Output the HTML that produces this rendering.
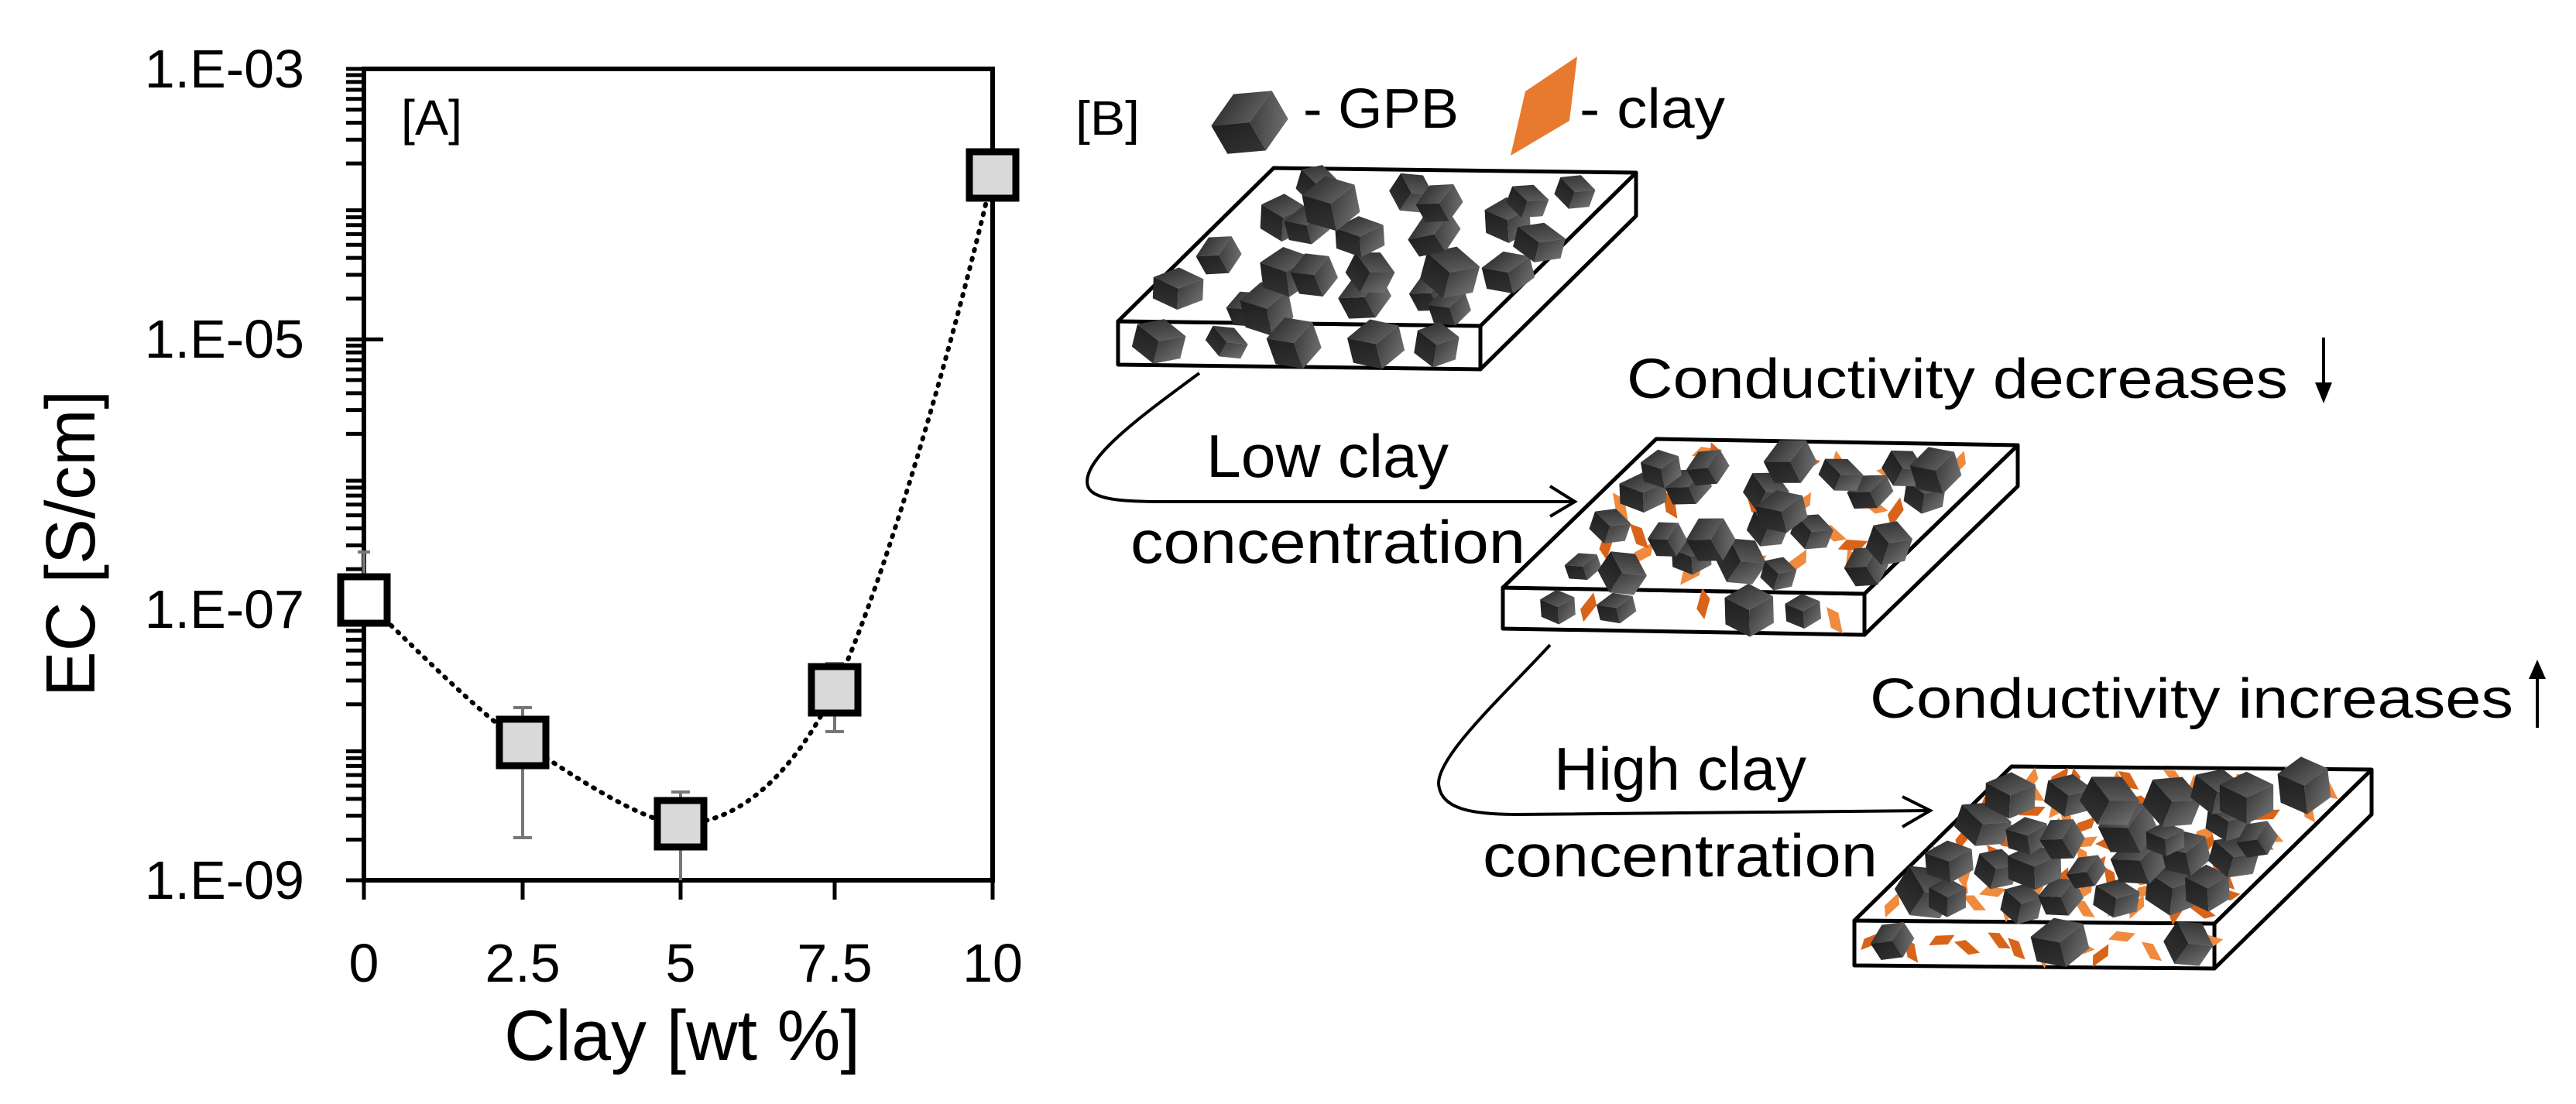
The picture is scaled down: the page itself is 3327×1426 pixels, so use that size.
<!DOCTYPE html>
<html><head><meta charset="utf-8">
<style>html,body{margin:0;padding:0;background:#fff;}svg{display:block;}text{font-family:"Liberation Sans",sans-serif;fill:#000;}</style>
</head><body>
<svg id="s" xmlns="http://www.w3.org/2000/svg" width="3327" height="1426" viewBox="0 0 3327 1426">
<defs>
<linearGradient id="gt" x1="0" y1="0" x2="1" y2="1"><stop offset="0" stop-color="#262626"/><stop offset="1" stop-color="#6a6a6a"/></linearGradient>
<linearGradient id="gl" x1="0" y1="0" x2="0" y2="1"><stop offset="0" stop-color="#1f1f1f"/><stop offset="1" stop-color="#333"/></linearGradient>
<linearGradient id="gr" x1="0" y1="0" x2="1" y2="1"><stop offset="0" stop-color="#333"/><stop offset="1" stop-color="#7a7a7a"/></linearGradient>
<g id="cube">
<polygon points="0,-1 0.87,-0.5 0,0 -0.87,-0.5" fill="url(#gt)"/>
<polygon points="-0.87,-0.5 0,0 0,1 -0.87,0.5" fill="url(#gl)"/>
<polygon points="0,0 0.87,-0.5 0.87,0.5 0,1" fill="url(#gr)"/>
</g>
</defs>
<rect width="3327" height="1426" fill="#fff"/>

<g stroke="#000" stroke-width="6" fill="none">
<rect x="470" y="89" width="812" height="1048"/>
</g>
<g id="ticks" stroke="#000" stroke-width="5"></g>
<g font-size="70" text-anchor="end">
<text x="393" y="113">1.E-03</text>
<text x="393" y="462">1.E-05</text>
<text x="393" y="811">1.E-07</text>
<text x="393" y="1161">1.E-09</text>
</g>
<g font-size="70" text-anchor="middle">
<text x="470" y="1268">0</text>
<text x="675" y="1268">2.5</text>
<text x="879" y="1268">5</text>
<text x="1078" y="1268">7.5</text>
<text x="1282" y="1268">10</text>
</g>
<text x="651" y="1369" font-size="92" textLength="460" lengthAdjust="spacingAndGlyphs">Clay [wt %]</text>
<text transform="translate(122,900) rotate(-90)" font-size="90" textLength="396" lengthAdjust="spacingAndGlyphs">EC [S/cm]</text>
<text x="518" y="174" font-size="64" textLength="79" lengthAdjust="spacingAndGlyphs">[A]</text>

<g stroke="#777" stroke-width="4">
<line x1="470" y1="713" x2="470" y2="775"/><line x1="462" y1="713" x2="478" y2="713"/>
<line x1="675" y1="914" x2="675" y2="1082"/><line x1="663" y1="914" x2="687" y2="914"/><line x1="663" y1="1082" x2="687" y2="1082"/>
<line x1="879" y1="1023" x2="879" y2="1137"/><line x1="867" y1="1023" x2="891" y2="1023"/>
<line x1="1078" y1="857" x2="1078" y2="945"/><line x1="1066" y1="857" x2="1090" y2="857"/><line x1="1066" y1="945" x2="1090" y2="945"/>
</g>
<path d="M470,775 C510,810 620,925 675,959 C730,995 830,1064 879,1064 C960,1064 1030,990 1078,891 C1140,760 1230,450 1282,226" fill="none" stroke="#000" stroke-width="6" stroke-dasharray="2 10" stroke-linecap="round"/>
<g stroke="#000" stroke-width="9" fill="#d9d9d9">
<rect x="440" y="745" width="60" height="60" fill="#fff"/>
<rect x="645" y="929" width="60" height="60"/>
<rect x="849" y="1034" width="60" height="60"/>
<rect x="1048" y="861" width="60" height="60"/>
<rect x="1252" y="196" width="60" height="60"/>
</g>

<text x="1389" y="174" font-size="62" textLength="83" lengthAdjust="spacingAndGlyphs">[B]</text>
<use href="#cube" transform="translate(1614,158) rotate(-30) scale(52,42)"/>
<text x="1683" y="165" font-size="72" textLength="201" lengthAdjust="spacingAndGlyphs">- GPB</text>
<polygon points="1951,201 1970,118 2037,73 2027,156" fill="#e87a30"/>
<text x="2040" y="165" font-size="72" textLength="188" lengthAdjust="spacingAndGlyphs">- clay</text>

<g id="slabs"></g>

<text x="2101" y="514" font-size="72" textLength="854" lengthAdjust="spacingAndGlyphs">Conductivity decreases</text>
<line x1="3001" y1="436" x2="3001" y2="500" stroke="#000" stroke-width="4"/>
<polygon points="2990,494 3012,494 3001,521" fill="#000"/>
<text x="2415" y="927" font-size="72" textLength="831" lengthAdjust="spacingAndGlyphs">Conductivity increases</text>
<line x1="3277" y1="940" x2="3277" y2="872" stroke="#000" stroke-width="4"/>
<polygon points="3266,877 3288,877 3277,852" fill="#000"/>

<g fill="none" stroke="#000" stroke-width="4">
<path d="M1549,482 C1470,540 1395,595 1405,628 C1412,648 1460,648 1520,648 L2034,648"/>
<path d="M2002,628 L2034,648 L2002,667"/>
<path d="M2002,833 C1940,900 1858,975 1858,1012 C1860,1045 1900,1052 1960,1052 L2493,1047"/>
<path d="M2457,1029 L2493,1047 L2457,1068"/>
</g>
<text x="1558" y="616" font-size="78" textLength="313" lengthAdjust="spacingAndGlyphs">Low clay</text>
<text x="1460" y="727" font-size="78" textLength="510" lengthAdjust="spacingAndGlyphs">concentration</text>
<text x="2007" y="1020" font-size="78" textLength="326" lengthAdjust="spacingAndGlyphs">High clay</text>
<text x="1915" y="1132" font-size="78" textLength="510" lengthAdjust="spacingAndGlyphs">concentration</text>
</svg>
<script>
(function(){
var NS="http://www.w3.org/2000/svg";
function el(n,a,p){var e=document.createElementNS(NS,n);for(var k in a)e.setAttribute(k,a[k]);p.appendChild(e);return e;}
var tg=document.getElementById("ticks");
for(var d=0;d<6;d++){var y0=89+d*174.67;
 for(var m=2;m<=9;m++){var y=y0+174.67*(1-Math.log10(m));el("line",{x1:447,x2:470,y1:y,y2:y},tg);}
}
for(var d=0;d<=3;d++){var y=89+d*349.33;el("line",{x1:447,x2:495,y1:y,y2:y},tg);}
[470,675,879,1078,1282].forEach(function(x){el("line",{x1:x,x2:x,y1:1137,y2:1162},tg);});
var seed=12345;function R(){seed=(seed*16807)%2147483647;return seed/2147483647;}
var sg=document.getElementById("slabs");
function grid(cols,rows,j){var o=[];for(var a=0;a<rows;a++)for(var b=0;b<cols;b++)o.push([(b+0.5+(R()-0.5)*j)/cols,(a+0.5+(R()-0.5)*j)/rows]);return o;}
function slab(s,cc,cr,nf,r,kc,kr,nclayf,cl){
 var FL=s.FL,FR=s.FR,BL=s.BL,D=s.D,BR=[BL[0]+FR[0]-FL[0],BL[1]+FR[1]-FL[1]];
 var g=el("g",{},sg);
 var st={stroke:"#000","stroke-width":5,fill:"#fff","stroke-linejoin":"round"};
 function pp(a){return a.map(function(p){return p[0]+","+p[1]}).join(" ");}
 var a=Object.assign({},st);a.points=pp([FL,FR,[FR[0],FR[1]+D],[FL[0],FL[1]+D]]);el("polygon",a,g);
 a=Object.assign({},st);a.points=pp([FR,BR,[BR[0],BR[1]+D],[FR[0],FR[1]+D]]);el("polygon",a,g);
 a=Object.assign({},st);a.points=pp([FL,FR,BR,BL]);el("polygon",a,g);
 function P(u,v){u=0.04+u*0.92;v=0.05+v*0.9;return [FL[0]+u*(FR[0]-FL[0])+v*(BL[0]-FL[0]),FL[1]+u*(FR[1]-FL[1])+v*(BL[1]-FL[1])];}
 function F(u,t){return [FL[0]+u*(FR[0]-FL[0]),FL[1]+u*(FR[1]-FL[1])+t*D];}
 var items=[];
 if(kc)grid(kc,kr,0.8).forEach(function(q){items.push({k:0,p:P(q[0],q[1])});});
 for(var i=0;i<nclayf;i++)items.push({k:0,p:F((i+0.5+(R()-0.5)*0.7)/nclayf,0.3+R()*0.45)});
 grid(cc,cr,0.7).forEach(function(q){items.push({k:1,p:P(q[0],q[1])});});
 for(var i=0;i<nf;i++)items.push({k:1,p:F((i+0.5+(R()-0.5)*0.6)/nf,0.45)});
 items.forEach(function(it){
  var x=it.p[0],y=it.p[1];
  if(it.k==1){var rr=r*(0.8+R()*0.4),sq=0.7+R()*0.3;
   el("use",{href:"#cube",transform:"translate("+x.toFixed(1)+","+y.toFixed(1)+") rotate("+(R()*70-35).toFixed(1)+") scale("+rr.toFixed(1)+","+(rr*sq).toFixed(1)+")"},g);}
  else{var c=R()<0.5?"#ef8a3e":"#d8641a";
   el("polygon",{points:"-1,0.35 -0.45,-0.35 1,-0.35 0.45,0.35",fill:c,transform:"translate("+x.toFixed(1)+","+y.toFixed(1)+") rotate("+(R()*180).toFixed(1)+") scale("+cl+","+cl+")"},g);}
 });
}
slab({FL:[1444,415],FR:[1912,421],BL:[1645,217],D:56},6,4,5,34,0,0,0,16);
slab({FL:[1941,759],FR:[2408,767],BL:[2139,567],D:53},6,4,4,30,6,4,3,19);
slab({FL:[2395,1189],FR:[2860,1193],BL:[2598,990],D:58},7,4,3,34,12,9,14,17);
})();
</script>
</body></html>
